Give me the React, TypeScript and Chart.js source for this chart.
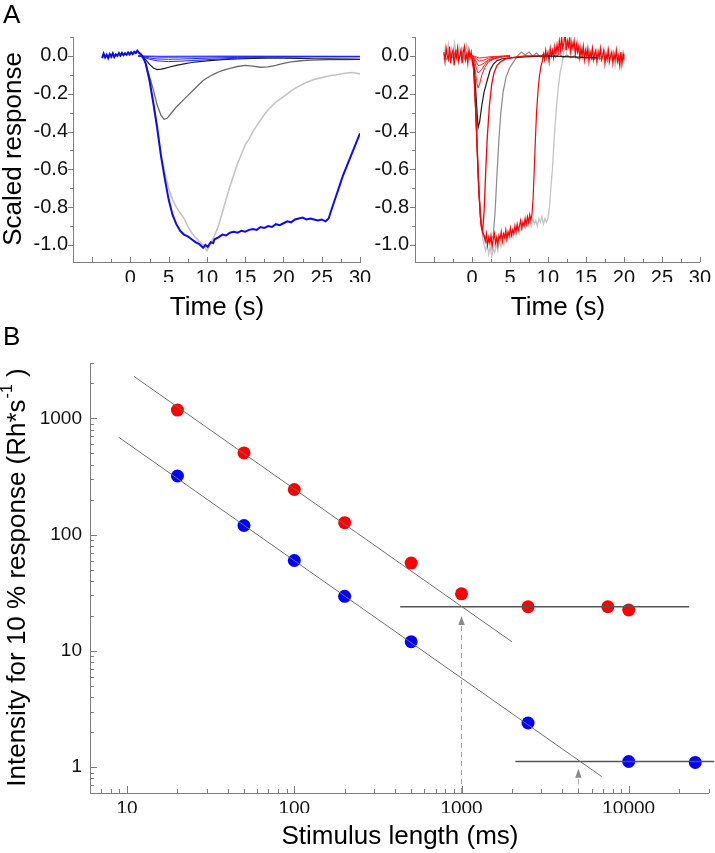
import React, { useEffect, useRef } from 'react';
import { Chart, registerables } from 'chart.js';

Chart.register(...registerables);

const FONT = "'Liberation Sans', Arial, Helvetica, sans-serif";
Chart.defaults.font.family = FONT;
Chart.defaults.color = '#111';

// ---------------- Panel A (left): time (s), scaled response ----------------
const blueMainTrace: [number, number][] = [
  [-3.7, -0.01], [-3.5, 0.012], [-3.3, -0.008], [-3.1, 0.006], [-2.9, -0.012], [-2.7, 0.01],
  [-2.5, -0.004], [-2.3, 0.014], [-2.1, -0.006], [-1.9, 0.008], [-1.7, 0.0], [-1.5, 0.015],
  [-1.3, 0.002], [-1.1, 0.016], [-0.9, 0.004], [-0.7, 0.014], [-0.5, 0.006], [-0.3, 0.018],
  [-0.1, 0.008], [0.1, 0.02], [0.3, 0.01], [0.5, 0.022], [0.7, 0.015], [0.9, 0.028],
  [1.1, 0.018], [1.4, 0.008], [1.7, -0.01], [2.0, -0.04], [2.5, -0.13], [3.0, -0.25],
  [3.5, -0.38], [4.0, -0.53], [4.5, -0.65], [5.0, -0.76], [5.5, -0.84], [6.0, -0.89],
  [6.5, -0.925], [7.0, -0.945], [7.5, -0.955], [8.0, -0.97], [8.5, -0.985], [9.0, -0.995],
  [9.5, -1.015], [9.8, -1.0], [10.1, -1.01], [10.5, -0.985], [10.8, -0.99], [11.0, -0.97],
  [11.5, -0.96], [12.0, -0.945], [12.5, -0.95], [13.0, -0.935], [13.5, -0.93], [14.0, -0.935],
  [14.5, -0.925], [15.0, -0.93], [15.5, -0.92], [16.0, -0.915], [16.5, -0.92], [17.0, -0.905],
  [17.5, -0.91], [18.0, -0.9], [18.5, -0.905], [19.0, -0.89], [19.5, -0.895], [20.0, -0.885],
  [20.5, -0.875], [21.0, -0.88], [21.5, -0.865], [22.0, -0.86], [22.5, -0.855], [23.0, -0.865],
  [23.5, -0.86], [24.0, -0.865], [24.5, -0.87], [25.0, -0.865], [25.5, -0.875], [25.9, -0.86],
  [26.3, -0.81], [26.8, -0.75], [27.3, -0.69], [27.8, -0.63], [28.3, -0.58], [28.8, -0.53],
  [29.3, -0.48], [29.8, -0.43], [30.0, -0.41],
];
const blueSmallA: [number, number][] = [
  [1.0, 0], [1.8, -0.008], [2.5, -0.018], [3.5, -0.026], [5.0, -0.03], [7.0, -0.027],
  [10.0, -0.02], [14.0, -0.012], [18.0, -0.007], [24.0, -0.005], [30.0, -0.005],
];
const blueSmallB: [number, number][] = [
  [1.0, 0], [1.8, -0.005], [2.5, -0.011], [3.5, -0.016], [5.0, -0.018], [7.0, -0.016],
  [10.0, -0.012], [14.0, -0.008], [18.0, -0.005], [24.0, -0.004], [30.0, -0.004],
];
const blueSmallC: [number, number][] = [
  [1.0, 0], [2.0, -0.003], [3.5, -0.006], [5.0, -0.007], [8.0, -0.006], [14.0, -0.004],
  [22.0, -0.003], [30.0, -0.003],
];
const blueSmallD: [number, number][] = [[1.0, 0.0], [4.0, -0.002], [12.0, -0.001], [30.0, -0.002]];
const blackLeftTrace: [number, number][] = [
  [1.5, 0.0], [2.0, -0.02], [2.5, -0.045], [3.0, -0.064], [3.5, -0.072], [4.0, -0.07],
  [4.5, -0.066], [5.0, -0.06], [6.0, -0.05], [7.0, -0.042], [8.0, -0.035], [9.0, -0.03],
  [10.0, -0.026], [12.0, -0.02], [14.0, -0.016], [16.0, -0.013], [18.0, -0.012], [20.0, -0.012],
  [22.0, -0.013], [24.0, -0.015], [26.0, -0.016], [28.0, -0.017], [30.0, -0.018],
];
const darkGreyLeftTrace: [number, number][] = [
  [1.5, 0.0], [2.0, -0.04], [2.5, -0.11], [3.0, -0.18], [3.5, -0.26], [4.0, -0.315],
  [4.4, -0.335], [4.8, -0.33], [5.2, -0.31], [5.6, -0.29], [6.0, -0.27], [6.5, -0.25],
  [7.0, -0.23], [7.5, -0.21], [8.0, -0.19], [8.5, -0.17], [9.0, -0.15], [9.5, -0.13],
  [10.0, -0.117], [10.5, -0.105], [11.0, -0.095], [11.5, -0.085], [12.0, -0.078], [13.0, -0.066],
  [14.0, -0.056], [15.0, -0.05], [16.0, -0.054], [17.0, -0.06], [18.0, -0.058], [19.0, -0.05],
  [20.0, -0.04], [21.0, -0.032], [22.0, -0.027], [23.0, -0.024], [24.0, -0.022], [26.0, -0.02],
  [28.0, -0.019], [30.0, -0.018],
];
const lightGreyLeftTrace: [number, number][] = [
  [-3.7, -0.015], [-3.1, 0.0], [-2.5, -0.01], [-1.9, 0.005], [-1.3, 0.0], [-0.7, 0.01],
  [-0.1, 0.005], [0.5, 0.012], [1.1, 0.015], [1.5, -0.005], [2.0, -0.04], [2.5, -0.13],
  [3.0, -0.26], [3.5, -0.39], [4.0, -0.52], [4.5, -0.62], [5.0, -0.7], [5.5, -0.76],
  [6.0, -0.8], [6.5, -0.83], [7.0, -0.86], [7.5, -0.9], [8.0, -0.935], [8.5, -0.96],
  [9.0, -0.98], [9.5, -1.0], [10.0, -1.03], [10.5, -0.99], [11.0, -0.95], [11.5, -0.9],
  [12.0, -0.83], [12.5, -0.76], [13.0, -0.69], [13.5, -0.63], [14.0, -0.57], [14.5, -0.52],
  [15.0, -0.47], [15.5, -0.44], [16.0, -0.4], [16.5, -0.37], [17.0, -0.34], [17.5, -0.31],
  [18.0, -0.285], [18.5, -0.265], [19.0, -0.245], [19.5, -0.23], [20.0, -0.215], [21.0, -0.185],
  [22.0, -0.16], [23.0, -0.14], [24.0, -0.125], [25.0, -0.115], [26.0, -0.105], [27.0, -0.1],
  [28.0, -0.092], [29.0, -0.088], [30.0, -0.095],
];

// ---------------- Panel A (right) ----------------
const redLongTrace: [number, number][] = [
  [-3.7, 0.02], [-3.55, -0.03], [-3.4, 0.04], [-3.25, 0.0], [-3.1, -0.02], [-2.95, 0.05],
  [-2.8, -0.04], [-2.65, 0.01], [-2.5, 0.03], [-2.35, -0.05], [-2.2, 0.02], [-2.05, -0.01],
  [-1.9, 0.04], [-1.75, -0.03], [-1.6, 0.0], [-1.45, 0.03], [-1.3, -0.04], [-1.15, 0.02],
  [-1.0, 0.05], [-0.85, -0.02], [-0.7, 0.01], [-0.55, -0.04], [-0.4, 0.03], [-0.25, -0.01],
  [-0.1, 0.02], [0.05, -0.03], [0.2, -0.06], [0.5, -0.3], [0.8, -0.62], [1.1, -0.85],
  [1.4, -0.93], [1.6, -0.95], [1.75, -0.98], [1.9, -0.94], [2.05, -1.0], [2.2, -0.96],
  [2.35, -0.99], [2.5, -0.95], [2.65, -1.01], [2.8, -0.97], [2.95, -0.94], [3.1, -0.99],
  [3.25, -0.96], [3.4, -1.0], [3.55, -0.95], [3.7, -0.97], [3.85, -0.93], [4.0, -0.98],
  [4.15, -0.94], [4.3, -0.96], [4.45, -0.92], [4.6, -0.97], [4.75, -0.93], [4.9, -0.95],
  [5.05, -0.91], [5.2, -0.95], [5.35, -0.92], [5.5, -0.94], [5.65, -0.9], [5.8, -0.93],
  [5.95, -0.89], [6.1, -0.92], [6.25, -0.9], [6.4, -0.87], [6.55, -0.91], [6.7, -0.88],
  [6.85, -0.9], [7.0, -0.86], [7.15, -0.89], [7.3, -0.85], [7.45, -0.88], [7.6, -0.84],
  [7.75, -0.87], [7.9, -0.84], [8.05, -0.75], [8.2, -0.6], [8.35, -0.44], [8.5, -0.3],
  [8.7, -0.18], [8.9, -0.1], [9.1, -0.05], [9.25, -0.03], [9.4, 0.01], [9.55, -0.02],
  [9.7, 0.03], [9.85, -0.01], [10.0, 0.02], [10.15, -0.03], [10.3, 0.04], [10.45, 0.0],
  [10.6, 0.03], [10.75, -0.01], [10.9, 0.05], [11.05, 0.01], [11.2, 0.06], [11.35, 0.02],
  [11.5, 0.08], [11.65, 0.03], [11.8, 0.1], [11.95, 0.04], [12.1, 0.07], [12.25, 0.12],
  [12.4, 0.03], [12.55, 0.08], [12.7, 0.05], [12.85, 0.09], [13.0, 0.02], [13.15, 0.07],
  [13.3, 0.04], [13.45, 0.08], [13.6, 0.01], [13.75, 0.06], [13.9, 0.02], [14.05, 0.05],
  [14.2, -0.01], [14.35, 0.04], [14.5, 0.0], [14.65, 0.05], [14.8, -0.02], [14.95, 0.03],
  [15.1, 0.0], [15.25, 0.04], [15.4, -0.03], [15.55, 0.02], [15.7, -0.01], [15.85, 0.04],
  [16.0, -0.02], [16.15, 0.01], [16.3, 0.03], [16.45, -0.03], [16.6, 0.02], [16.75, -0.01],
  [16.9, 0.04], [17.05, -0.02], [17.2, 0.0], [17.35, 0.03], [17.5, -0.04], [17.65, 0.01],
  [17.8, -0.02], [17.95, 0.03], [18.1, -0.03], [18.25, 0.0], [18.4, 0.02], [18.55, -0.04],
  [18.7, 0.01], [18.85, -0.02], [19.0, 0.03], [19.15, -0.03], [19.3, 0.0], [19.45, -0.05],
  [19.6, 0.02], [19.75, -0.04], [19.9, 0.01], [20.0, -0.02],
];
const lightLongTrace: [number, number][] = [
  [-3.7, -0.02], [-3.5, 0.05], [-3.3, 0.01], [-3.1, 0.06], [-2.9, -0.01], [-2.7, 0.04],
  [-2.5, 0.0], [-2.3, 0.07], [-2.1, 0.02], [-1.9, -0.02], [-1.7, 0.05], [-1.5, 0.01],
  [-1.3, 0.04], [-1.1, -0.03], [-0.9, 0.03], [-0.7, 0.06], [-0.5, 0.0], [-0.3, 0.03],
  [-0.1, -0.02], [0.2, -0.05], [0.5, -0.29], [0.8, -0.6], [1.1, -0.84], [1.4, -0.96],
  [1.6, -1.0], [1.8, -1.03], [2.0, -0.99], [2.2, -1.05], [2.4, -1.01], [2.6, -1.06],
  [2.8, -1.02], [3.0, -1.04], [3.2, -0.99], [3.4, -1.03], [3.6, -0.98], [3.8, -1.01],
  [4.0, -0.97], [4.2, -1.0], [4.4, -0.96], [4.6, -0.98], [4.8, -0.95], [5.0, -0.97],
  [5.2, -0.93], [5.4, -0.96], [5.6, -0.92], [5.8, -0.95], [6.0, -0.91], [6.2, -0.94],
  [6.4, -0.9], [6.6, -0.92], [6.8, -0.89], [7.0, -0.91], [7.2, -0.88], [7.4, -0.9],
  [7.6, -0.87], [7.8, -0.9], [8.0, -0.86], [8.2, -0.89], [8.4, -0.87], [8.6, -0.9],
  [8.8, -0.86], [9.0, -0.88], [9.2, -0.85], [9.4, -0.89], [9.6, -0.86], [9.8, -0.88],
  [10.0, -0.86], [10.2, -0.8], [10.35, -0.72], [10.6, -0.59], [10.85, -0.42], [11.1, -0.28],
  [11.35, -0.17], [11.6, -0.09], [11.85, -0.04], [12.05, 0.01], [12.25, 0.05], [12.45, 0.02],
  [12.65, 0.08], [12.85, 0.03], [13.05, 0.1], [13.25, 0.04], [13.45, 0.07], [13.65, 0.02],
  [13.85, 0.08], [14.05, 0.03], [14.25, 0.06], [14.45, 0.0], [14.65, 0.05], [14.85, 0.01],
  [15.05, 0.04], [15.25, -0.02], [15.45, 0.03], [15.65, 0.0], [15.85, 0.04], [16.05, -0.02],
  [16.25, 0.02], [16.45, -0.03], [16.65, 0.03], [16.85, 0.0], [17.05, 0.03], [17.25, -0.03],
  [17.45, 0.02], [17.65, -0.02], [17.85, 0.03], [18.05, -0.04], [18.25, 0.01], [18.45, -0.02],
  [18.65, 0.02], [18.85, -0.05], [19.05, 0.01], [19.25, -0.03], [19.45, 0.02], [19.65, -0.06],
  [19.85, 0.0], [20.0, -0.03],
];
const redMidTrace: [number, number][] = [
  [-0.3, 0.0], [0.0, 0.0], [0.3, -0.1], [0.6, -0.4], [0.9, -0.72], [1.2, -0.9], [1.4, -0.93],
  [1.6, -0.82], [1.8, -0.62], [2.0, -0.44], [2.3, -0.26], [2.6, -0.15], [2.9, -0.09],
  [3.3, -0.05], [3.8, -0.03], [4.5, -0.015], [5.5, -0.008], [7.0, 0.0], [10.0, 0.0],
];
const greyMidTrace: [number, number][] = [
  [-3.7, 0.01], [-3.3, -0.02], [-2.9, 0.02], [-2.5, -0.01], [-2.1, 0.03], [-1.7, -0.01],
  [-1.3, 0.02], [-0.9, -0.02], [-0.5, 0.02], [0.0, 0.0], [0.3, -0.08], [0.6, -0.38],
  [0.9, -0.7], [1.2, -0.88], [1.5, -0.95], [2.0, -0.99], [2.5, -0.97], [2.8, -0.95],
  [3.05, -0.82], [3.3, -0.62], [3.55, -0.44], [3.8, -0.3], [4.1, -0.19], [4.5, -0.11],
  [5.0, -0.06], [5.5, -0.03], [6.0, 0.0], [6.5, 0.02], [7.0, 0.005], [7.5, 0.02],
  [8.0, 0.0], [8.5, 0.015], [9.0, -0.005], [9.5, 0.012], [10.0, 0.0], [10.5, 0.015],
  [11.0, -0.005], [11.5, 0.01], [12.0, -0.01], [12.5, 0.005], [13.0, -0.01], [13.5, 0.0],
  [14.0, -0.015], [14.5, -0.005], [15.0, -0.015], [15.5, -0.005], [16.0, -0.02], [16.5, -0.01],
  [17.0, -0.015],
];
const blackRightTrace: [number, number][] = [
  [-0.3, 0.0], [0.0, 0.0], [0.3, -0.06], [0.55, -0.22], [0.8, -0.38], [1.0, -0.35],
  [1.3, -0.26], [1.6, -0.19], [2.0, -0.13], [2.4, -0.075], [2.8, -0.045], [3.3, -0.025],
  [4.0, -0.015], [5.0, -0.01], [7.0, -0.005], [10.0, 0.0], [13.0, -0.005], [16.5, -0.01],
];
const redSmallTimes = [-0.3, 0.0, 0.3, 0.6, 0.8, 1.0, 1.3, 1.7, 2.2, 3.0, 4.0, 5.0];
const redSmall1 = [0, 0, -0.04, -0.13, -0.17, -0.15, -0.1, -0.06, -0.03, -0.015, -0.005, 0];
const redSmall2 = [0, 0, -0.02, -0.07, -0.09, -0.085, -0.07, -0.045, -0.025, -0.012, -0.004, 0];
const redSmall3 = [0, 0, -0.01, -0.035, -0.05, -0.05, -0.045, -0.035, -0.02, -0.01, -0.003, 0];
const redSmall4 = [0, 0, -0.005, -0.015, -0.025, -0.027, -0.025, -0.02, -0.012, -0.006, -0.002, 0];
const redSmall5 = [0, 0, -0.002, -0.006, -0.01, -0.011, -0.01, -0.008, -0.005, -0.003, -0.001, 0];

// ---------------- Panel A axes ----------------
const timeTickLabels = [0, 5, 10, 15, 20, 25, 30];
const responseTickLabels = [0, -0.2, -0.4, -0.6, -0.8, -1.0];

// ---------------- Panel B ----------------
const stimulusRed = [20, 50, 100, 200, 500, 1000, 2500, 7500, 10000];
const intensityRed = [1180, 505, 245, 127, 57, 31, 24, 24, 22.5];
const stimulusBlue = [20, 50, 100, 200, 500, 2500, 10000, 25000];
const intensityBlue = [320, 120, 60, 29.5, 12, 2.4, 1.12, 1.1];
const redFitX = [11, 2000];
const redFitY = [2300, 12];
const blueFitX = [8.9, 6900];
const blueFitY = [690, 0.83];
const redPlateauX = [430, 23000];
const redPlateauY = [24, 24];
const bluePlateauX = [2100, 32500];
const bluePlateauY = [1.12, 1.12];
const redArrowX = [1000, 1000];
const redArrowY = [0.6, 20];
const blueArrowX = [5000, 5000];
const blueArrowY = [0.6, 0.97];
const stimulusTickLabels = [10, 100, 1000, 10000];
const intensityTickLabels = [1, 10, 100, 1000];

// ---------------- helpers ----------------
const fromPairs = (p: [number, number][]) => p.map(([x, y]) => ({ x, y }));
const zip = (xs: number[], ys: number[]) => xs.map((x, i) => ({ x, y: ys[i] }));

const trace = (data: { x: number; y: number }[], color: string, width: number) => ({
  data,
  borderColor: color,
  backgroundColor: color,
  borderWidth: width,
  pointRadius: 0,
  fill: false,
  tension: 0,
});

function range(a: number, b: number, step: number) {
  const out: number[] = [];
  for (let i = 0; a + i * step <= b + 1e-9; i++) out.push(Math.round((a + i * step) * 1000) / 1000);
  return out;
}
function logMinor(lo: number, hi: number) {
  const out: number[] = [];
  const decades = [0.1, 1, 10, 100, 1000, 10000];
  for (const d of decades) for (let m = 2; m < 10; m++) {
    const v = d * m;
    if (v >= lo - 1e-9 && v <= hi + 1e-9) out.push(v);
  }
  return out;
}

type TickSpec = { axis: 'x' | 'y'; values: number[]; len: number; inward: boolean };
const makeTickPlugin = (specs: TickSpec[], color: string) => ({
  id: 'tickMarks',
  afterDatasetsDraw(chart: any) {
    const { ctx, chartArea } = chart;
    ctx.save();
    ctx.strokeStyle = color;
    ctx.lineWidth = 1;
    ctx.beginPath();
    for (const s of specs) {
      const scale = chart.scales[s.axis];
      for (const v of s.values) {
        const p = scale.getPixelForValue(v);
        if (s.axis === 'x') {
          const x = Math.round(p) + 0.5;
          const y0 = chartArea.bottom;
          ctx.moveTo(x, y0);
          ctx.lineTo(x, y0 + (s.inward ? -s.len : s.len));
        } else {
          const y = Math.round(p) + 0.5;
          const x0 = chartArea.left;
          ctx.moveTo(x0, y);
          ctx.lineTo(x0 + (s.inward ? s.len : -s.len), y);
        }
      }
    }
    ctx.stroke();
    ctx.restore();
  },
});

type TextItem = {
  text: string; x: number; y: number; size: number; rotate?: boolean;
  align?: CanvasTextAlign; baseline?: CanvasTextBaseline; sup?: string; tail?: string;
};
const makeTextPlugin = (items: TextItem[]) => ({
  id: 'textOverlay',
  afterDraw(chart: any) {
    const ctx: CanvasRenderingContext2D = chart.ctx;
    for (const it of items) {
      ctx.save();
      ctx.fillStyle = '#000';
      const main = `${it.size}px ${FONT}`;
      ctx.font = main;
      ctx.translate(it.x, it.y);
      if (it.rotate) ctx.rotate(-Math.PI / 2);
      ctx.textBaseline = it.baseline || 'middle';
      if (it.sup) {
        const supFont = `${Math.round(it.size * 0.62)}px ${FONT}`;
        const mainW = ctx.measureText(it.text).width;
        ctx.font = supFont;
        const supW = ctx.measureText(it.sup).width;
        ctx.font = main;
        const tailW = ctx.measureText(it.tail || '').width;
        const x0 = -(mainW + supW + tailW) / 2;
        ctx.textAlign = 'left';
        ctx.fillText(it.text, x0, 0);
        ctx.font = supFont;
        ctx.fillText(it.sup, x0 + mainW + 1, -it.size * 0.4);
        ctx.font = main;
        ctx.fillText(it.tail || '', x0 + mainW + supW + 1, 0);
      } else {
        ctx.textAlign = it.align || 'center';
        ctx.fillText(it.text, 0, 0);
      }
      ctx.restore();
    }
  },
});

const arrowPlugin = {
  id: 'arrowHeads',
  afterDatasetsDraw(chart: any) {
    const ctx = chart.ctx;
    chart.data.datasets.forEach((ds: any, i: number) => {
      if (!ds.arrowHead) return;
      const meta = chart.getDatasetMeta(i);
      const pt = meta.data[meta.data.length - 1];
      if (!pt) return;
      ctx.save();
      ctx.fillStyle = ds.arrowColor;
      ctx.beginPath();
      ctx.moveTo(pt.x, pt.y);
      ctx.lineTo(pt.x - 3.2, pt.y + 9);
      ctx.lineTo(pt.x + 3.2, pt.y + 9);
      ctx.closePath();
      ctx.fill();
      ctx.restore();
    });
  },
};

const AXIS_COLOR = '#7d7d7d';
const W = 715;
const H = 853;

function timePanelConfig(datasets: any[], area: { left: number; top: number; right: number; bottom: number }, yWidth: number, labelPad: number, texts: TextItem[]) {
  const xHeight = 20;
  return {
    type: 'line',
    data: { datasets },
    options: {
      animation: false,
      responsive: false,
      devicePixelRatio: 1,
      events: [],
      layout: {
        padding: { left: area.left - yWidth, top: area.top, right: W - area.right, bottom: H - area.bottom - xHeight },
      },
      plugins: { legend: { display: false }, tooltip: { enabled: false } },
      scales: {
        x: {
          type: 'linear',
          min: -7.5,
          max: 30,
          afterFit: (s: any) => { s.height = xHeight; },
          afterBuildTicks: (s: any) => { s.ticks = timeTickLabels.map((v) => ({ value: v })); },
          grid: { display: false, drawTicks: false },
          border: { display: true, color: AXIS_COLOR, width: 1 },
          ticks: { font: { size: 20, family: FONT }, color: '#111', padding: 4, maxRotation: 0, autoSkip: false, callback: (v: any) => String(v) },
        },
        y: {
          type: 'linear',
          min: -1.09,
          max: 0.1,
          afterFit: (s: any) => { s.width = yWidth; },
          afterBuildTicks: (s: any) => { s.ticks = responseTickLabels.map((v) => ({ value: v })); },
          grid: { display: false, drawTicks: false },
          border: { display: true, color: AXIS_COLOR, width: 1 },
          ticks: { font: { size: 20, family: FONT }, color: '#111', padding: labelPad, autoSkip: false, callback: (v: any) => Number(v).toFixed(1) },
        },
      },
    },
    plugins: [
      makeTickPlugin([
        { axis: 'x', values: range(-5, 30, 5), len: 5, inward: true },
        { axis: 'x', values: range(-7.5, 27.5, 5), len: 3, inward: true },
        { axis: 'y', values: range(-1, 0, 0.2), len: 5, inward: false },
        { axis: 'y', values: range(-0.9, 0.1, 0.2), len: 3, inward: false },
      ], AXIS_COLOR),
      makeTextPlugin(texts),
    ],
  };
}

function leftConfig() {
  const datasets = [
    trace(fromPairs(blueMainTrace), '#0b0bef', 2),
    trace(fromPairs(blueSmallA), '#2424ff', 1),
    trace(fromPairs(blueSmallB), '#2424ff', 1),
    trace(fromPairs(blueSmallC), '#2424ff', 1),
    trace(fromPairs(blueSmallD), '#2424ff', 1),
    trace(fromPairs(blackLeftTrace), '#1e1e1e', 1.2),
    trace(fromPairs(darkGreyLeftTrace), '#6a6a6a', 1.3),
    trace(fromPairs(lightGreyLeftTrace), '#c4c4c4', 1.6),
  ];
  return timePanelConfig(datasets, { left: 73, top: 37, right: 360, bottom: 262 }, 73, 5, [
    { text: 'A', x: 3, y: 23, size: 26, align: 'left', baseline: 'alphabetic' },
    { text: 'Scaled response', x: 14, y: 149, size: 26, rotate: true },
    { text: 'Time (s)', x: 217, y: 308, size: 26 },
  ]);
}

function rightConfig() {
  const datasets = [
    trace(zip(redSmallTimes, redSmall1), '#ff1a1a', 1),
    trace(zip(redSmallTimes, redSmall2), '#ff1a1a', 1),
    trace(zip(redSmallTimes, redSmall3), '#ff1a1a', 1),
    trace(zip(redSmallTimes, redSmall4), '#ff1a1a', 1),
    trace(zip(redSmallTimes, redSmall5), '#ff1a1a', 1),
    trace(fromPairs(redMidTrace), '#ff0000', 1.3),
    trace(fromPairs(blackRightTrace), '#1e1e1e', 1.2),
    trace(fromPairs(redLongTrace), '#ff0000', 1.2),
    trace(fromPairs(greyMidTrace), '#8a8a8a', 1.2),
    trace(fromPairs(lightLongTrace), '#c4c4c4', 1.3),
  ];
  return timePanelConfig(datasets, { left: 415, top: 37, right: 700, bottom: 262 }, 60, 6, [
    { text: 'Time (s)', x: 558, y: 308, size: 26 },
  ]);
}

function bConfig() {
  const area = { left: 90, top: 363, right: 710, bottom: 793 };
  const yWidth = 60;
  const xHeight = 20;
  const line = (xs: number[], ys: number[], color: string, width: number, extra: any = {}) => ({
    type: 'scatter',
    data: zip(xs, ys),
    showLine: true,
    borderColor: color,
    backgroundColor: color,
    borderWidth: width,
    pointRadius: 0,
    ...extra,
  });
  const dots = (xs: number[], ys: number[], color: string) => ({
    type: 'scatter',
    data: zip(xs, ys),
    showLine: false,
    pointRadius: 6.5,
    pointBorderWidth: 0,
    backgroundColor: color,
    borderColor: color,
  });
  return {
    type: 'scatter',
    data: {
      datasets: [
        line(redFitX, redFitY, '#6e6e6e', 1),
        line(blueFitX, blueFitY, '#6e6e6e', 1),
        line(redPlateauX, redPlateauY, '#555555', 1.5),
        line(bluePlateauX, bluePlateauY, '#555555', 1.5, { clip: { left: 0, top: 0, right: 10, bottom: 0 } }),
        line(redArrowX, redArrowY, '#a0a0a0', 1, { borderDash: [5, 4], arrowHead: true, arrowColor: '#8a8a8a' }),
        line(blueArrowX, blueArrowY, '#a0a0a0', 1, { borderDash: [5, 4], arrowHead: true, arrowColor: '#8a8a8a' }),
        dots(stimulusRed, intensityRed, '#ff0000'),
        dots(stimulusBlue, intensityBlue, '#0000ff'),
      ],
    },
    options: {
      animation: false,
      responsive: false,
      devicePixelRatio: 1,
      events: [],
      layout: {
        padding: { left: area.left - yWidth, top: area.top, right: W - area.right, bottom: H - area.bottom - xHeight },
      },
      plugins: { legend: { display: false }, tooltip: { enabled: false } },
      scales: {
        x: {
          type: 'logarithmic',
          min: 6,
          max: 30000,
          afterFit: (s: any) => { s.height = xHeight; },
          afterBuildTicks: (s: any) => { s.ticks = stimulusTickLabels.map((v) => ({ value: v })); },
          grid: { display: false, drawTicks: false },
          border: { display: true, color: AXIS_COLOR, width: 1 },
          ticks: { font: { size: 19, family: FONT }, color: '#111', padding: 4, maxRotation: 0, autoSkip: false, callback: (v: any) => String(v) },
        },
        y: {
          type: 'logarithmic',
          min: 0.6,
          max: 3000,
          afterFit: (s: any) => { s.width = yWidth; },
          afterBuildTicks: (s: any) => { s.ticks = intensityTickLabels.map((v) => ({ value: v })); },
          grid: { display: false, drawTicks: false },
          border: { display: true, color: AXIS_COLOR, width: 1 },
          ticks: { font: { size: 19, family: FONT }, color: '#111', padding: 8, autoSkip: false, callback: (v: any) => String(v) },
        },
      },
    },
    plugins: [
      arrowPlugin,
      makeTickPlugin([
        { axis: 'x', values: stimulusTickLabels, len: 7, inward: true },
        { axis: 'x', values: logMinor(6, 30000), len: 4, inward: true },
        { axis: 'y', values: intensityTickLabels, len: 7, inward: true },
        { axis: 'y', values: logMinor(0.6, 3000), len: 4, inward: true },
      ], AXIS_COLOR),
      makeTextPlugin([
        { text: 'B', x: 3, y: 345, size: 26, align: 'left', baseline: 'alphabetic' },
        { text: 'Stimulus length (ms)', x: 400, y: 837, size: 26 },
        { text: 'Intensity for 10 % response (Rh*s', sup: '-1', tail: ' )', x: 18, y: 578, size: 26, rotate: true },
      ]),
    ],
  };
}

export default function App() {
  const r1 = useRef<HTMLCanvasElement>(null);
  const r2 = useRef<HTMLCanvasElement>(null);
  const r3 = useRef<HTMLCanvasElement>(null);

  useEffect(() => {
    const charts = [
      new Chart(r1.current as HTMLCanvasElement, leftConfig() as any),
      new Chart(r2.current as HTMLCanvasElement, rightConfig() as any),
      new Chart(r3.current as HTMLCanvasElement, bConfig() as any),
    ];
    return () => charts.forEach((c) => c.destroy());
  }, []);

  const cs: React.CSSProperties = { position: 'absolute', left: 0, top: 0, width: W, height: H };
  return (
    <div style={{ position: 'absolute', left: 0, top: 0, width: W, height: H, background: '#fff', overflow: 'hidden' }}>
      <canvas ref={r1} width={W} height={H} style={cs} />
      <canvas ref={r2} width={W} height={H} style={cs} />
      <canvas ref={r3} width={W} height={H} style={cs} />
    </div>
  );
}
